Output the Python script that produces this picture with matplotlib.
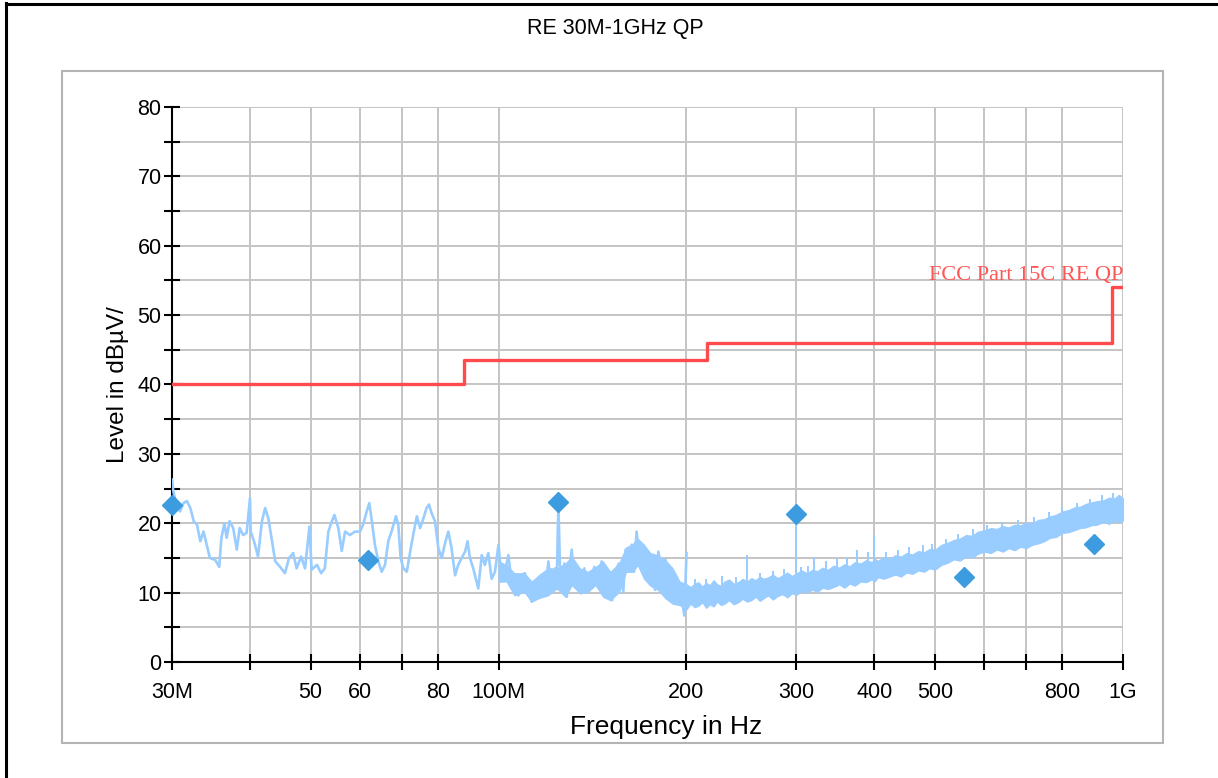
import numpy as np
import matplotlib.pyplot as plt
from matplotlib.patches import Rectangle
from matplotlib.lines import Line2D
from matplotlib.ticker import NullLocator

plt.rcParams['font.family'] = ['Liberation Sans', 'DejaVu Sans']

# scan trace 30-200 MHz (MHz, dBuV/m)
scan_f = [30.0, 30.15, 30.5, 30.9, 31.3, 31.7, 32.1, 32.5, 32.9, 33.3, 33.7, 34.1, 34.5, 35.2, 35.7,
          36.0, 36.4, 36.7, 37.1, 37.6, 38.1, 38.5, 39.0, 39.5, 40.0, 40.1, 40.6, 41.2, 41.8, 42.3,
          42.8, 43.3, 43.9, 44.7, 45.5, 46.2, 46.9, 47.5, 48.3, 49.0, 49.8, 50.2, 51.2, 52.0, 52.7,
          53.4, 54.1, 54.6, 55.4, 56.1, 56.8, 57.8, 58.9,
          60.0, 60.7, 61.5, 62.1, 62.6, 63.4, 64.2, 65.0, 65.8, 66.6, 67.4, 68.5, 69.1, 69.7, 70.4,
          71.3, 72.2, 73.0, 74.0, 74.9, 75.8, 76.7, 77.4, 78.1, 79.1, 80.1, 81.1, 82.1, 83.1, 84.1,
          85.2, 86.2, 87.3, 88.4, 89.2, 90.0, 91.1, 92.8, 94.0, 95.1, 96.3, 97.5, 98.7, 100.0, 101.2,
          102.4, 103.7, 104.9, 106.2, 107.6, 108.9, 110.2, 111.6, 113.0, 114.4, 115.8, 117.2, 118.7,
          120.2, 121.6, 123.2,
          123.9, 124.7, 125.4, 126.5, 127.5, 128.6, 129.7, 131.0, 132.2, 133.9, 135.5, 137.2, 138.9,
          140.6, 142.4, 144.1, 146.3, 148.1, 149.9, 152.1, 153.6, 155.9, 158.4, 159.8, 161.8, 163.4,
          164.8, 166.4, 167.9, 169.9, 172.0, 174.2, 176.3, 178.1, 180.3, 182.5, 185.2, 187.0, 189.3,
          191.7, 194.5, 196.5, 198.4, 200.0]
scan_v = [26.3, 24.6, 22.7, 21.7, 22.9, 23.2, 22.2, 20.3, 19.8, 17.4, 18.8, 16.9, 15.0, 14.7, 13.7,
          17.9, 20.0, 17.9, 20.3, 19.3, 16.2, 19.3, 18.3, 18.6, 23.6, 18.8, 17.4, 15.2, 20.3, 22.2,
          20.7, 17.9, 14.5, 13.7, 12.8, 15.0, 15.7, 13.5, 15.2, 13.5, 19.5, 13.3, 14.0, 12.8, 13.5,
          18.8, 20.3, 21.2, 19.3, 16.0, 18.8, 18.3, 18.8,
          18.8, 19.8, 21.7, 22.9, 20.7, 16.9, 14.5, 13.0, 14.0, 17.4, 18.8, 21.0, 19.8, 15.0, 13.5,
          13.0, 15.9, 18.3, 21.0, 19.3, 20.7, 22.2, 22.7, 21.5, 20.3, 16.4, 15.0, 17.1, 18.8, 16.4,
          12.5, 14.0, 15.0, 15.9, 17.4, 15.0, 13.5, 10.6, 15.4, 14.0, 15.7, 12.0, 13.0, 16.9, 11.6,
          13.0, 15.4, 11.6, 12.5, 9.6, 12.5, 12.8, 10.1, 8.7, 11.6, 9.2, 12.5, 9.6,
          14.5, 10.1, 13.5,
          10.6, 22.8, 14.0, 11.6, 14.2, 9.4, 13.0, 16.2, 11.1, 13.0, 9.9, 13.5, 10.1,
          12.0, 13.7, 11.1, 14.5, 9.4, 13.0, 8.9, 13.0, 14.2, 10.1, 16.2, 13.5, 16.9,
          13.0, 18.8, 15.0, 16.9, 12.0, 15.7, 14.0, 10.4, 15.9, 13.0, 14.7, 9.2, 13.5,
          8.4, 11.6, 9.2, 6.7, 15.7]

# noisy band 100-200 MHz (lower / upper edge)
mid_f = [100, 103, 106, 110, 113, 116, 120, 124, 128, 131, 135, 139, 143, 147, 151, 156, 160, 164,
         167, 171, 175, 180, 185, 190, 195, 200]
mid_lo = [11.6, 11.6, 9.6, 10.1, 8.7, 9.2, 9.6, 10.6, 9.4, 11.1, 9.9, 10.1, 11.1, 9.4, 8.9, 10.1, 13.0, 13.0,
          14.0, 12.0, 11.0, 10.4, 9.2, 8.4, 8.2, 7.6]
mid_hi = [14.5, 14.0, 12.8, 12.8, 11.6, 12.5, 13.5, 13.5, 14.2, 15.2, 13.5, 13.0, 13.7, 14.5, 13.0, 14.2, 16.5, 17.0,
          17.8, 16.9, 15.7, 15.4, 14.7, 13.5, 11.6, 11.2]

# dense part of the scan 200 MHz - 1 GHz: lower / upper edge of the noise band
band_f = [200, 203, 206, 209, 212, 215, 218, 221, 224, 227, 230, 234, 238, 242, 246, 250, 254, 258,
          262, 266, 270, 275, 280, 285, 290, 295, 300, 306, 312, 318, 324, 330, 337, 344, 351, 358,
          365, 372, 380, 388, 396, 400, 405, 414, 423, 432, 441, 450, 460, 470, 480, 490, 500, 512,
          524, 536, 548, 560, 573, 586, 600, 614, 628, 642, 656, 670, 685, 700, 716, 732, 748, 764,
          780, 800, 818, 836, 854, 872, 890, 910, 930, 950, 970, 985, 1000]
band_lo = [7.6, 8.4, 7.9, 8.1, 8.6, 7.8, 8.3, 8.0, 8.7, 8.2, 8.4, 8.9, 8.3, 8.6, 9.1, 8.7, 8.9, 9.4,
           8.8, 9.2, 9.6, 9.0, 9.5, 9.8, 9.3, 9.9, 9.7, 10.2, 10.0, 10.4, 10.1, 10.7, 10.5, 10.8, 11.2, 10.7,
           11.3, 11.0, 11.6, 11.5, 11.9, 11.6, 12.2, 12.0, 12.3, 12.6, 12.3, 12.9, 12.7, 13.2, 13.0, 13.5, 13.3, 14.0,
           14.3, 14.8, 14.6, 15.2, 15.0, 15.6, 15.9, 15.7, 16.2, 15.9, 16.4, 16.1, 16.6, 16.4, 16.9, 17.1, 17.4, 17.9,
           18.0, 18.6, 18.7, 19.0, 19.3, 19.4, 19.7, 19.8, 20.2, 19.9, 20.4, 20.1, 20.4]
band_hi = [11.2, 10.8, 11.3, 11.5, 10.9, 11.4, 11.1, 11.8, 11.2, 11.0, 11.6, 11.9, 11.3, 11.5, 12.0, 11.6, 12.1, 11.8,
           12.3, 12.0, 12.2, 12.6, 12.1, 12.5, 12.9, 12.4, 12.8, 13.2, 12.8, 13.3, 13.1, 13.6, 13.3, 13.9, 13.6, 14.1,
           13.8, 14.4, 14.2, 14.7, 14.4, 14.9, 14.6, 15.1, 14.9, 15.4, 15.2, 15.7, 15.5, 16.0, 15.8, 16.3, 16.2, 16.9,
           17.2, 17.6, 17.8, 18.3, 18.2, 18.8, 19.0, 19.3, 19.2, 19.6, 19.4, 19.8, 19.7, 20.1, 20.0, 20.5, 20.6, 21.0,
           21.2, 21.7, 21.9, 22.3, 22.4, 22.8, 23.0, 23.2, 23.3, 23.7, 23.6, 24.1, 23.6]

# narrow spikes on top of the band
spike_f = [206, 215, 228, 240, 250, 262, 275, 287, 300, 305, 313, 320, 335, 348, 362, 375, 391, 400,
           418, 437, 455, 478, 495, 520, 545, 575, 605, 640, 680, 720, 760, 800, 845, 885, 925, 965]
spike_base = [8.0, 8.0, 8.3, 8.5, 8.7, 8.8, 9.0, 9.5, 9.7, 10.0, 10.0, 10.2, 10.5, 10.8, 11.0, 11.2, 11.6, 11.6,
              12.0, 12.5, 12.8, 13.2, 13.4, 14.2, 14.6, 15.2, 15.8, 16.0, 16.5, 16.8, 17.7, 18.5, 19.0, 19.6, 20.0, 20.2]
spike_top = [12.0, 11.9, 12.4, 12.3, 15.4, 12.9, 13.1, 13.4, 21.2, 13.7, 13.8, 15.2, 14.5, 14.8, 15.0, 16.1, 15.9, 18.3,
             15.8, 16.2, 16.6, 16.9, 17.0, 17.8, 18.4, 19.2, 19.8, 20.2, 20.5, 20.9, 21.6, 22.3, 22.9, 23.5, 24.0, 24.3]

# QP final measurements
qp_f = [30.0, 61.8, 124.7, 300.0, 556.0, 898.0]
qp_v = [22.6, 14.7, 23.0, 21.3, 12.3, 17.0]

# FCC Part 15C limit
lim_f = [30, 88, 216, 960, 1000]
lim_v = [40.0, 43.5, 46.0, 54.0]

xt = [30, 40, 50, 60, 70, 80, 100, 200, 300, 400, 500, 600, 700, 800, 1000]
xt_lab = ['30M', '', '50', '60', '', '80', '100M', '200', '300', '400', '500', '', '', '800', '1G']
yt = np.arange(0, 81, 5)
yt_lab = [str(v) if v % 10 == 0 else '' for v in yt]

fig = plt.figure(figsize=(12.18, 7.78), dpi=100)
fig.patches.append(Rectangle((0.0509, 0.045), 0.9039, 0.8637, transform=fig.transFigure,
                             fill=False, edgecolor='#b4b4b4', lw=1.5))
fig.lines.append(Line2D([0.0053, 0.0053], [0, 0.996], transform=fig.transFigure, color='k', lw=2.2))
fig.lines.append(Line2D([0.0053, 1], [0.9949, 0.9949], transform=fig.transFigure, color='k', lw=2.2))

ax = fig.add_axes([0.1412, 0.1491, 0.7808, 0.7134])
ax.set_xscale('log')
ax.set_xlim(30, 1000)
ax.set_ylim(0, 80)

trace_c = '#99ccff'
ax.fill_between(mid_f, mid_lo, mid_hi, color=trace_c, lw=0.8, edgecolor=trace_c, zorder=3)
ax.plot(scan_f, scan_v, color=trace_c, lw=1.9, zorder=3)
ax.fill_between(band_f, band_lo, band_hi, color=trace_c, lw=0.8, edgecolor=trace_c, zorder=3)
ax.vlines(spike_f, spike_base, spike_top, color=trace_c, lw=1.4, zorder=3)

ax.step(lim_f, lim_v + [lim_v[-1]], where='post', color='#ff4b4b', lw=2.4, zorder=4)
ax.text(1000, 55.0, 'FCC Part 15C RE QP', color='#ff5555', ha='right', va='baseline',
        fontsize=16, family=['Liberation Serif'])

ax.plot(qp_f, qp_v, 'D', color='#3d9be0', ms=10, clip_on=False, zorder=5)

ax.set_xticks(xt)
ax.set_xticklabels(xt_lab)
ax.xaxis.set_minor_locator(NullLocator())
ax.set_yticks(yt)
ax.set_yticklabels(yt_lab)
ax.grid(True, color='#c4c4c4', lw=1.4, zorder=0)
ax.set_axisbelow(True)
for s in ['top', 'right']:
    ax.spines[s].set_visible(False)
for s in ['left', 'bottom']:
    ax.spines[s].set_linewidth(1.5)
ax.tick_params(direction='inout', length=11, width=1.5, labelsize=15.5)
ax.tick_params(axis='x', pad=9)
ax.tick_params(axis='y', pad=2)

fig.text(0.505, 0.964, 'RE 30M-1GHz QP', ha='center', va='center', fontsize=15.5)
fig.text(0.5465, 0.0656, 'Frequency in Hz', ha='center', va='center', fontsize=19)
fig.text(0.0969, 0.505, 'Level in dB\u00b5V/', ha='center', va='center', rotation=90, fontsize=17.5)

fig.savefig('out.png', dpi=100)
